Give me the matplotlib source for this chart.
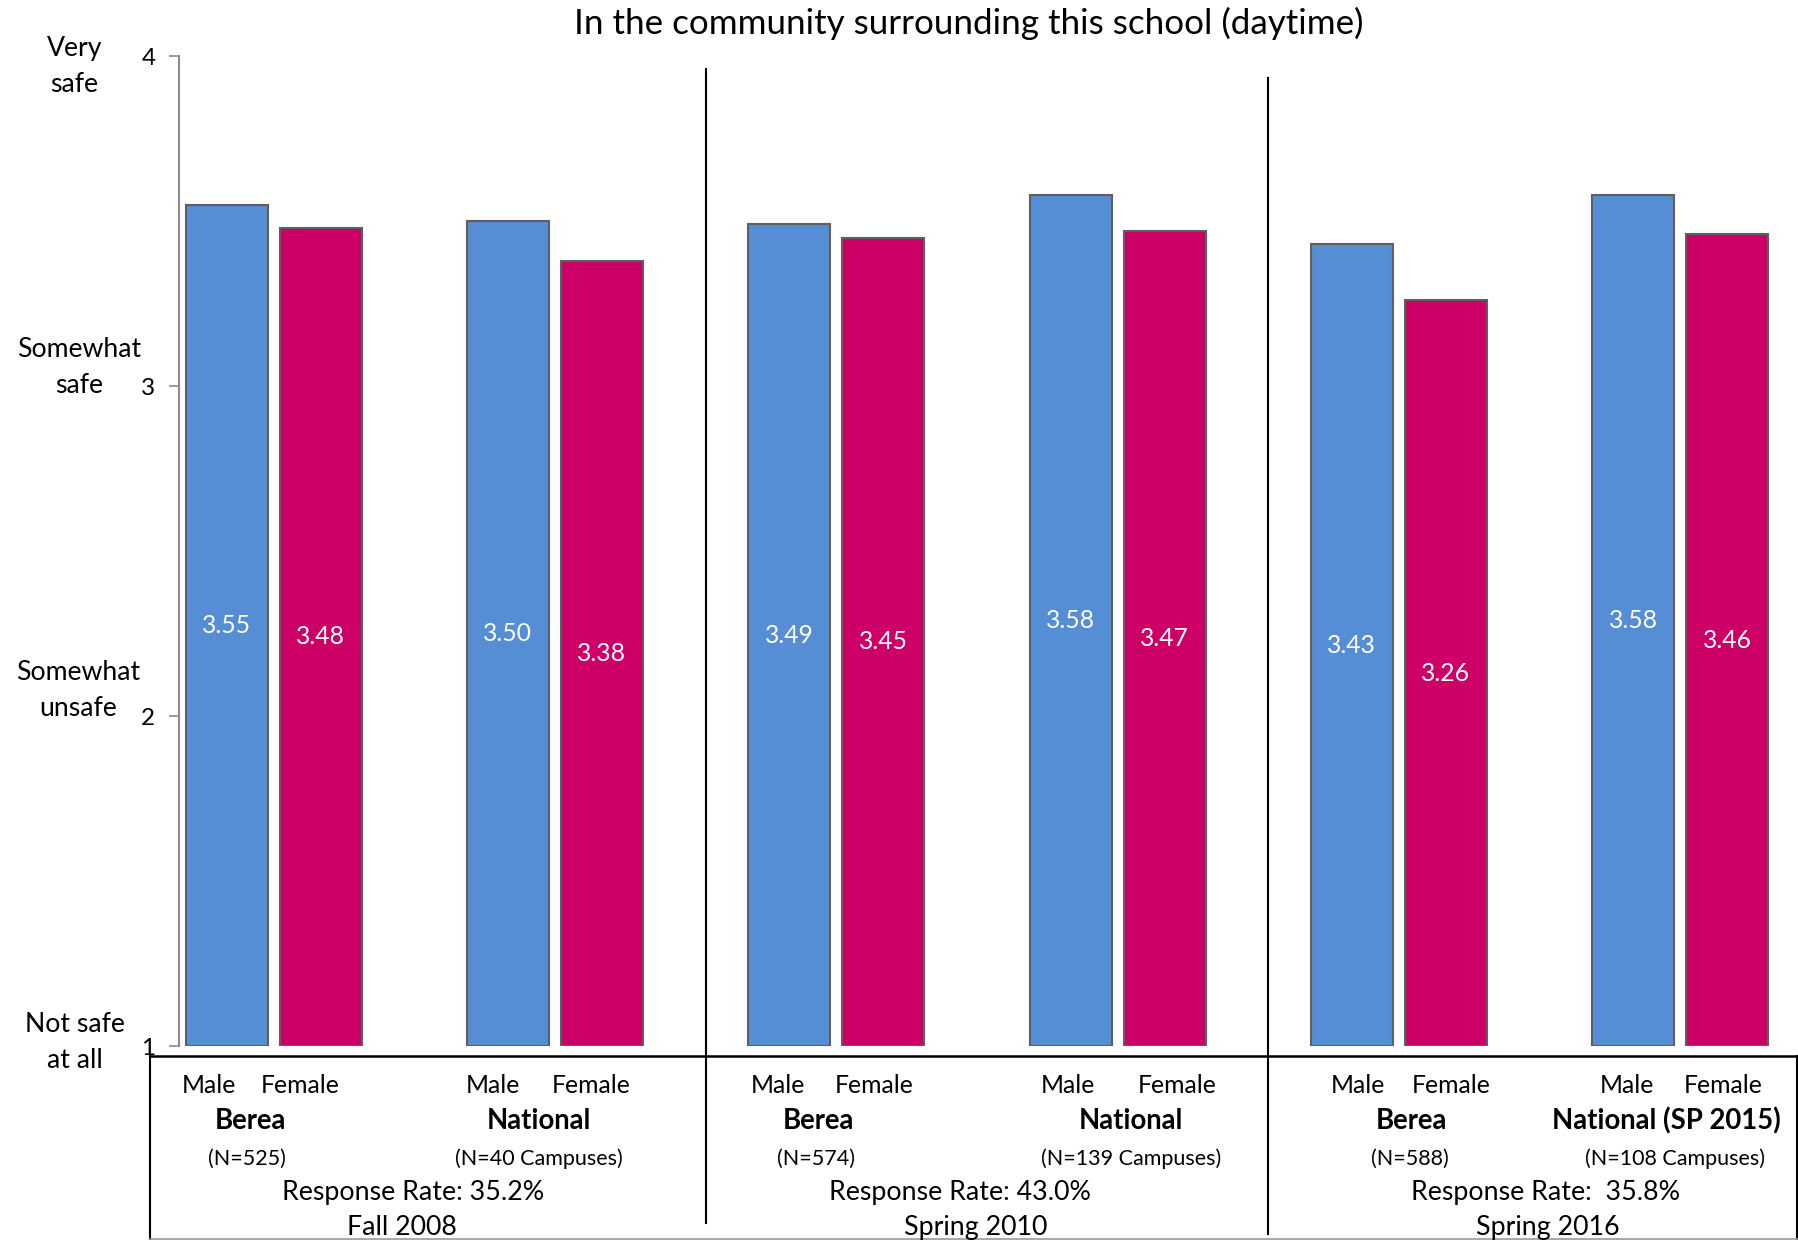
import matplotlib
matplotlib.use("Agg")
import matplotlib.pyplot as plt
from matplotlib.lines import Line2D

# ---------------- data ----------------
title = "In the community surrounding this school (daytime)"
male_values = [3.55, 3.50, 3.49, 3.58, 3.43, 3.58]
female_values = [3.48, 3.38, 3.45, 3.47, 3.26, 3.46]
group_names = ["Berea", "National", "Berea", "National", "Berea", "National (SP 2015)"]
n_labels = ["(N=525)", "(N=40 Campuses)", "(N=574)", "(N=139 Campuses)",
            "(N=588)", "(N=108 Campuses)"]
response_rates = ["Response Rate: 35.2%", "Response Rate: 43.0%", "Response Rate:  35.8%"]
periods = ["Fall 2008", "Spring 2010", "Spring 2016"]
yticks = [1, 2, 3, 4]
ytick_words = ["Not safe\nat all", "Somewhat\nunsafe", "Somewhat\nsafe", "Very\nsafe"]

# ---------------- layout helpers (reference px in 1568x1081 space) ----------------
W, H = 1568.0, 1081.0
def fx(px): return px / W
def fy(py): return 1 - py / H

plt.rcParams['font.family'] = ['Lato', 'DejaVu Sans']
fig = plt.figure(figsize=(17.99, 12.40), dpi=100)

ax = fig.add_axes([fx(156), fy(912), 1 - fx(156), fy(49) - fy(912)])
x0_px, step_px = 238.5, 245.2
ax.set_xlim((156 - x0_px) / step_px, (W - x0_px) / step_px)
ax.set_ylim(1, 4)

blue = "#558ED5"
magenta = "#CC0066"
bw = 71.5 / step_px
off = 41.0 / step_px
xs = list(range(len(male_values)))
ax.bar([x - off for x in xs], [v - 1 for v in male_values], bottom=1, width=bw,
       color=blue, edgecolor="#5f5f5f", linewidth=1.5, zorder=3)
ax.bar([x + off for x in xs], [v - 1 for v in female_values], bottom=1, width=bw,
       color=magenta, edgecolor="#5f5f5f", linewidth=1.5, zorder=3)
for x, v in zip(xs, male_values):
    ax.text(x - off, (v + 1) / 2, f"{v:.2f}", color="white", ha="center", va="center",
            fontsize=17.8, zorder=4)
for x, v in zip(xs, female_values):
    ax.text(x + off, (v + 1) / 2, f"{v:.2f}", color="white", ha="center", va="center",
            fontsize=17.8, zorder=4)

for s in ["top", "right", "bottom"]:
    ax.spines[s].set_visible(False)
ax.spines["left"].set_color("#8c8c8c")
ax.spines["left"].set_linewidth(1.5)
ax.set_xticks([])
ax.set_yticks(yticks)
ax.set_yticklabels([str(t) for t in yticks], fontsize=17.5)
ax.tick_params(axis="y", length=7, width=1.2, color="#8c8c8c", pad=10)

# y category words
word_pos = [(65, 909), (68, 602), (69, 320), (65, 58)]
for (px, py), w in zip(word_pos, ytick_words):
    fig.text(fx(px), fy(py), w, ha="center", va="center", fontsize=19.2,
             linespacing=1.55)

fig.text(fx(844), fy(20), title, ha="center", va="center", fontsize=25.2)

# bottom table lines
def fline(x1, y1, x2, y2, color="black", lw=1.5):
    fig.add_artist(Line2D([fx(x1), fx(x2)], [fy(y1), fy(y2)], color=color, lw=lw,
                          transform=fig.transFigure))
fline(131, 920.5, W, 920.5, lw=1.8)
fline(131, 920.5, 131, H, lw=1.5)
fline(1566.5, 920.5, 1566.5, H, lw=1.5)
fline(131, 1079.8, W, 1079.8, color="#9a9a9a", lw=1.2)
fline(615, 60, 615, 1066, lw=1.5)
fline(1105.5, 68, 1105.5, 1076, lw=1.5)

# bottom labels
male_px = [182, 430, 678, 931, 1184, 1418]
female_px = [262, 515, 762, 1026, 1265, 1502]
name_px = [218, 470, 713, 986, 1230, 1452]
n_px = [215, 470, 711, 986, 1229, 1460]
for i in range(len(group_names)):
    fig.text(fx(male_px[i]), fy(946), "Male", ha="center", va="center", fontsize=17.8)
    fig.text(fx(female_px[i]), fy(946), "Female", ha="center", va="center", fontsize=17.8)
    fig.text(fx(name_px[i]), fy(977), group_names[i], ha="center", va="center",
             fontsize=19.8, fontweight="bold")
    fig.text(fx(n_px[i]), fy(1010), n_labels[i], ha="center", va="center", fontsize=15.5)
rr_px = [360, 837, 1347]
per_px = [350, 850, 1349]
for i in range(len(periods)):
    fig.text(fx(rr_px[i]), fy(1040), response_rates[i], ha="center", va="center", fontsize=19.3)
    fig.text(fx(per_px[i]), fy(1070), periods[i], ha="center", va="center", fontsize=19.3)

fig.savefig("out.png", dpi=100)
